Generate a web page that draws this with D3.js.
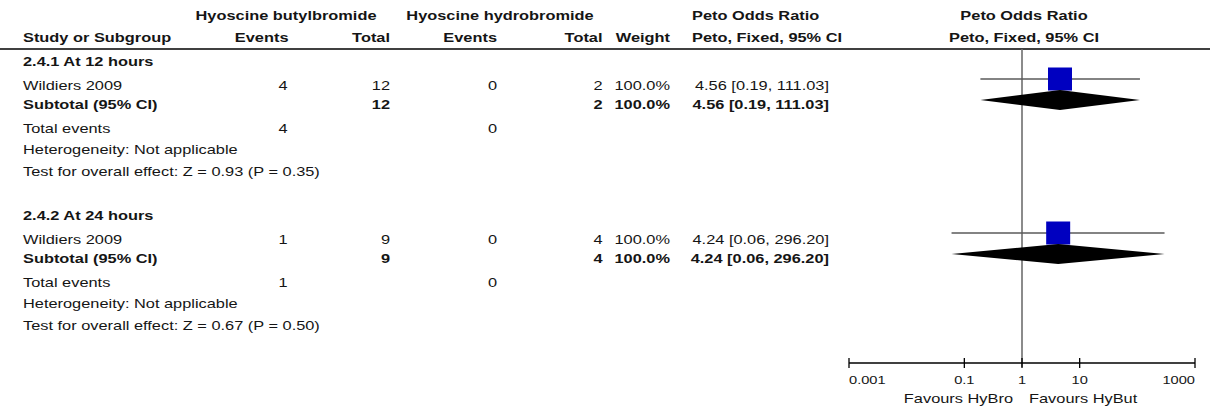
<!DOCTYPE html>
<html>
<head>
<meta charset="utf-8">
<script src="https://cdn.jsdelivr.net/npm/d3@7/dist/d3.min.js"></script>
<style>
  html, body { margin: 0; padding: 0; background: #fff; }
  svg { display: block; }
  text { font-family: "Liberation Sans", Arial, Helvetica, sans-serif; fill: #151515; }
</style>
</head>
<body>
<svg id="chart" width="1213" height="408"></svg>
<script>
// Subgroups and their single study
const groupTitles = ["2.4.1 At 12 hours", "2.4.2 At 24 hours"];
const studyNames = ["Wildiers 2009", "Wildiers 2009"];
const butEvents = [4, 1];
const butTotals = [12, 9];
const broEvents = [0, 0];
const broTotals = [2, 4];
const weights = [100.0, 100.0];
const oddsRatios = [4.56, 4.24];
const ciLower = [0.19, 0.06];
const ciUpper = [111.03, 296.20];
const zValues = [0.93, 0.67];
const pValues = [0.35, 0.50];

// Axis
const tickValues = [0.001, 0.1, 1, 10, 1000];
const tickLabels = ["0.001", "0.1", "1", "10", "1000"];
const favourLeft = "Favours HyBro";
const favourRight = "Favours HyBut";

const svg = d3.select("#chart");

const x = d3.scaleLog().domain([0.001, 1000]).range([849, 1195]);

// Glyphs are drawn horizontally widened
const KX = 1.365, FS = 12;

function txt(str, px, py, opts = {}) {
  const k = opts.kx || KX;
  return svg.append("text")
    .attr("transform", `translate(${px},${py}) scale(${k},1)`)
    .attr("text-anchor", opts.anchor || "start")
    .attr("font-size", opts.size || FS)
    .attr("font-weight", opts.bold ? "bold" : "normal")
    .text(str);
}

// Column anchors
const col = {
  study: 23, butEv: 287.5, butTot: 390, broEv: 497, broTot: 602.5,
  weight: 670, ci: 829, butHead: 286, broHead: 500, orHead: 692, plotHead: 1024
};

// Header
txt("Hyoscine butylbromide", col.butHead, 20, { anchor: "middle", bold: true });
txt("Hyoscine hydrobromide", col.broHead, 20, { anchor: "middle", bold: true });
txt("Peto Odds Ratio", col.orHead, 20, { bold: true });
txt("Peto Odds Ratio", col.plotHead, 20, { anchor: "middle", bold: true });
txt("Study or Subgroup", col.study, 42, { bold: true });
txt("Events", col.butEv + 1, 42, { anchor: "end", bold: true });
txt("Total", col.butTot, 42, { anchor: "end", bold: true });
txt("Events", col.broEv, 42, { anchor: "end", bold: true });
txt("Total", col.broTot, 42, { anchor: "end", bold: true });
txt("Weight", col.weight, 42, { anchor: "end", bold: true });
txt("Peto, Fixed, 95% CI", col.orHead, 42, { bold: true });
txt("Peto, Fixed, 95% CI", col.plotHead, 42, { anchor: "middle", bold: true });

svg.append("line")
  .attr("x1", 0).attr("x2", 1210).attr("y1", 49).attr("y2", 49)
  .attr("stroke", "#000").attr("stroke-width", 1.4);

// Row layout within each subgroup block (text baselines)
const blockTop = [66, 220];
const rowOffset = { title: 0, study: 24, subtotal: 43, events: 67, het: 88, test: 110 };

const fmtCI = i => `${oddsRatios[i].toFixed(2)} [${ciLower[i].toFixed(2)}, ${ciUpper[i].toFixed(2)}]`;

// Line of no effect
svg.append("line")
  .attr("x1", x(1)).attr("x2", x(1)).attr("y1", 49).attr("y2", 367)
  .attr("stroke", "#6e6e6e").attr("stroke-width", 1.6);

groupTitles.forEach((title, i) => {
  const b = blockTop[i];
  const yStudy = b + rowOffset.study;
  const ySub = b + rowOffset.subtotal;

  txt(title, col.study, b, { bold: true });

  // Study row
  txt(studyNames[i], col.study, yStudy);
  txt(butEvents[i], col.butEv, yStudy, { anchor: "end" });
  txt(butTotals[i], col.butTot, yStudy, { anchor: "end" });
  txt(broEvents[i], col.broEv, yStudy, { anchor: "end" });
  txt(broTotals[i], col.broTot, yStudy, { anchor: "end" });
  txt(weights[i].toFixed(1) + "%", col.weight, yStudy, { anchor: "end" });
  txt(fmtCI(i), col.ci, yStudy, { anchor: "end" });

  // Subtotal row
  txt("Subtotal (95% CI)", col.study, ySub, { bold: true });
  txt(butTotals[i], col.butTot, ySub, { anchor: "end", bold: true });
  txt(broTotals[i], col.broTot, ySub, { anchor: "end", bold: true });
  txt(weights[i].toFixed(1) + "%", col.weight, ySub, { anchor: "end", bold: true });
  txt(fmtCI(i), col.ci, ySub, { anchor: "end", bold: true });

  // Summary lines
  txt("Total events", col.study, b + rowOffset.events);
  txt(butEvents[i], col.butEv, b + rowOffset.events, { anchor: "end" });
  txt(broEvents[i], col.broEv, b + rowOffset.events, { anchor: "end" });
  txt("Heterogeneity: Not applicable", col.study, b + rowOffset.het);
  txt(`Test for overall effect: Z = ${zValues[i].toFixed(2)} (P = ${pValues[i].toFixed(2)})`,
      col.study, b + rowOffset.test);

  // Study confidence interval and weighted square
  const yCI = yStudy - 11;
  svg.append("line")
    .attr("x1", x(ciLower[i])).attr("x2", x(ciUpper[i]))
    .attr("y1", yCI).attr("y2", yCI)
    .attr("stroke", "#5a5a5a").attr("stroke-width", 1.4);
  const sw = 24, sh = 23;
  svg.append("rect")
    .attr("x", x(oddsRatios[i]) - sw / 2).attr("y", yCI - sh / 2)
    .attr("width", sw).attr("height", sh)
    .attr("fill", "#0000c0");

  // Subtotal diamond
  const yD = ySub - 9, hD = 10;
  svg.append("polygon")
    .attr("points", [
      [x(ciLower[i]), yD],
      [x(oddsRatios[i]), yD - hD],
      [x(ciUpper[i]), yD],
      [x(oddsRatios[i]), yD + hD]
    ].map(p => p.join(",")).join(" "))
    .attr("fill", "#000");
});

// Axis
const axisY = 363;
svg.append("line")
  .attr("x1", x(0.001)).attr("x2", x(1000)).attr("y1", axisY).attr("y2", axisY)
  .attr("stroke", "#000").attr("stroke-width", 1.3);
svg.selectAll("line.tick").data(tickValues).enter().append("line")
  .attr("class", "tick")
  .attr("x1", d => x(d)).attr("x2", d => x(d))
  .attr("y1", axisY - 5).attr("y2", axisY + 5)
  .attr("stroke", "#000").attr("stroke-width", 1.3);
tickValues.forEach((v, i) => {
  const anchor = i === 0 ? "start" : (i === tickValues.length - 1 ? "end" : "middle");
  txt(tickLabels[i], x(v), 384, { anchor, size: 11, kx: 1.33 });
});
txt(favourLeft, x(1) - 9, 403, { anchor: "end" });
txt(favourRight, x(1) + 7, 403);
</script>
</body>
</html>
